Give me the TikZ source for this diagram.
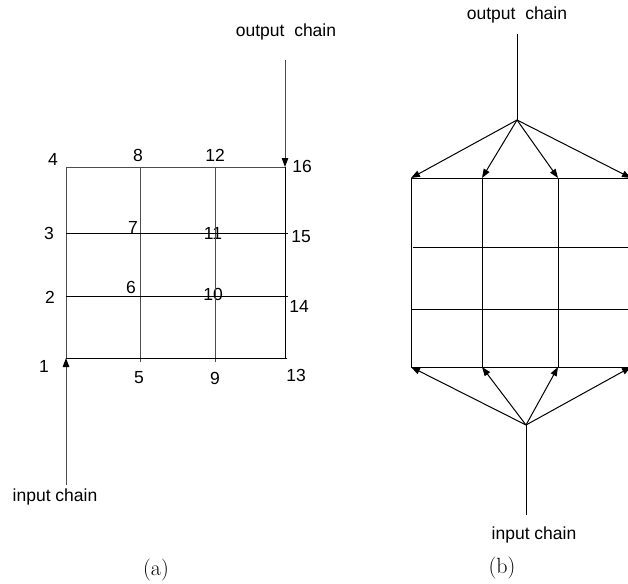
\documentclass[tikz,border=0pt]{standalone}
\usepackage{fontspec}
\setsansfont{Liberation Sans}
\usetikzlibrary{arrows.meta, calc}

\begin{document}
\begin{tikzpicture}[
  x=1pt, y=-1pt,
  every node/.style={font=\sffamily\fontsize{17.5}{20}\selectfont, inner sep=0pt},
  maglia/.style={line width=1pt, color=black},
  magliagrigia/.style={line width=1pt, color=black!70},
  arrow/.style={-{Triangle[length=9pt, width=6.5pt, color=black]}, line width=1pt},
  sotto/.style={font=\rmfamily\fontsize{22}{26}\selectfont}
]
  \useasboundingbox (0,0) rectangle (628,583);

  % Griglia (a): punti 1..16
  \foreach \c/\x in {0/66, 1/140, 2/215, 3/285}
    \foreach \r/\y in {1/358, 2/296, 3/233, 4/167} {
      \pgfmathtruncatemacro{\n}{4*\c+\r}
      \coordinate (p\n) at (\x,\y);
    }

  % Etichette dei punti
  \foreach \n/\x/\y in {1/44/366, 2/50/297, 3/49/233, 4/53/159,
                        5/139/378, 6/131/287, 7/133/227, 8/138/155,
                        9/215/378, 10/213/294, 11/213/233, 12/215/155,
                        13/296/375, 14/299/306, 15/301/237, 16/302/166}
    \node (l\n) at (\x,\y) {\n};

  % Linee della griglia (a)
  \draw[magliagrigia] (p4) -- (p1);
  \draw[magliagrigia] (p8) -- ($(p5)+(0,4)$);
  \draw[magliagrigia] (p12) -- ($(p9)+(0,4)$);
  \draw[maglia] (p16) -- (p13);
  \draw[magliagrigia] (p4) -- (p16);
  \draw[maglia] (p3) -- ($(p15)+(3,0)$);
  \draw[maglia] (p2) -- ($(p14)+(3,0)$);
  \draw[maglia] (p1) -- ($(p13)+(2,0)$);

  % Catene di ingresso e uscita (a)
  \coordinate (outA) at (285,60);
  \coordinate (inA) at (66,485);
  \draw[arrow, magliagrigia] (outA) -- (p16);
  \draw[arrow, magliagrigia] (inA) -- (p1);
  \node (toutA) at (286,32) {output\ \ chain};
  \node (tinA) at (55,497) {input chain};

  % Griglia (b)
  \foreach \c/\x in {1/411, 2/482, 3/558, 4/631} {
    \coordinate (t\c) at (\x,178);
    \coordinate (b\c) at (\x,367);
  }
  \coordinate (m1) at (413,247);
  \coordinate (m2) at (412,309);
  \draw[maglia] (t1) -- (t4);
  \draw[maglia] (b1) -- (b4);
  \draw[maglia] (m1) -- (631,247);
  \draw[maglia] (m2) -- (631,309);
  \foreach \c in {1,2,3}
    \draw[maglia] (t\c) -- (b\c);

  % Ventagli di frecce (b)
  \coordinate (hubT) at (517,120);
  \coordinate (hubB) at (526,425);
  \coordinate (outB) at (517,34);
  \coordinate (inB) at (526,515);
  \draw[maglia] (outB) -- (hubT);
  \draw[maglia] (inB) -- (hubB);
  \foreach \c in {1,...,4} {
    \draw[arrow] (hubT) -- (t\c);
    \draw[arrow] (hubB) -- (b\c);
  }
  \node (toutB) at (517,15) {output\ \ chain};
  \node (tinB) at (534,535) {input chain};

  % Didascalie
  \node[sotto] (capA) at (156,570) {(a)};
  \node[sotto] (capB) at (502,568) {(b)};
\end{tikzpicture}
\end{document}
